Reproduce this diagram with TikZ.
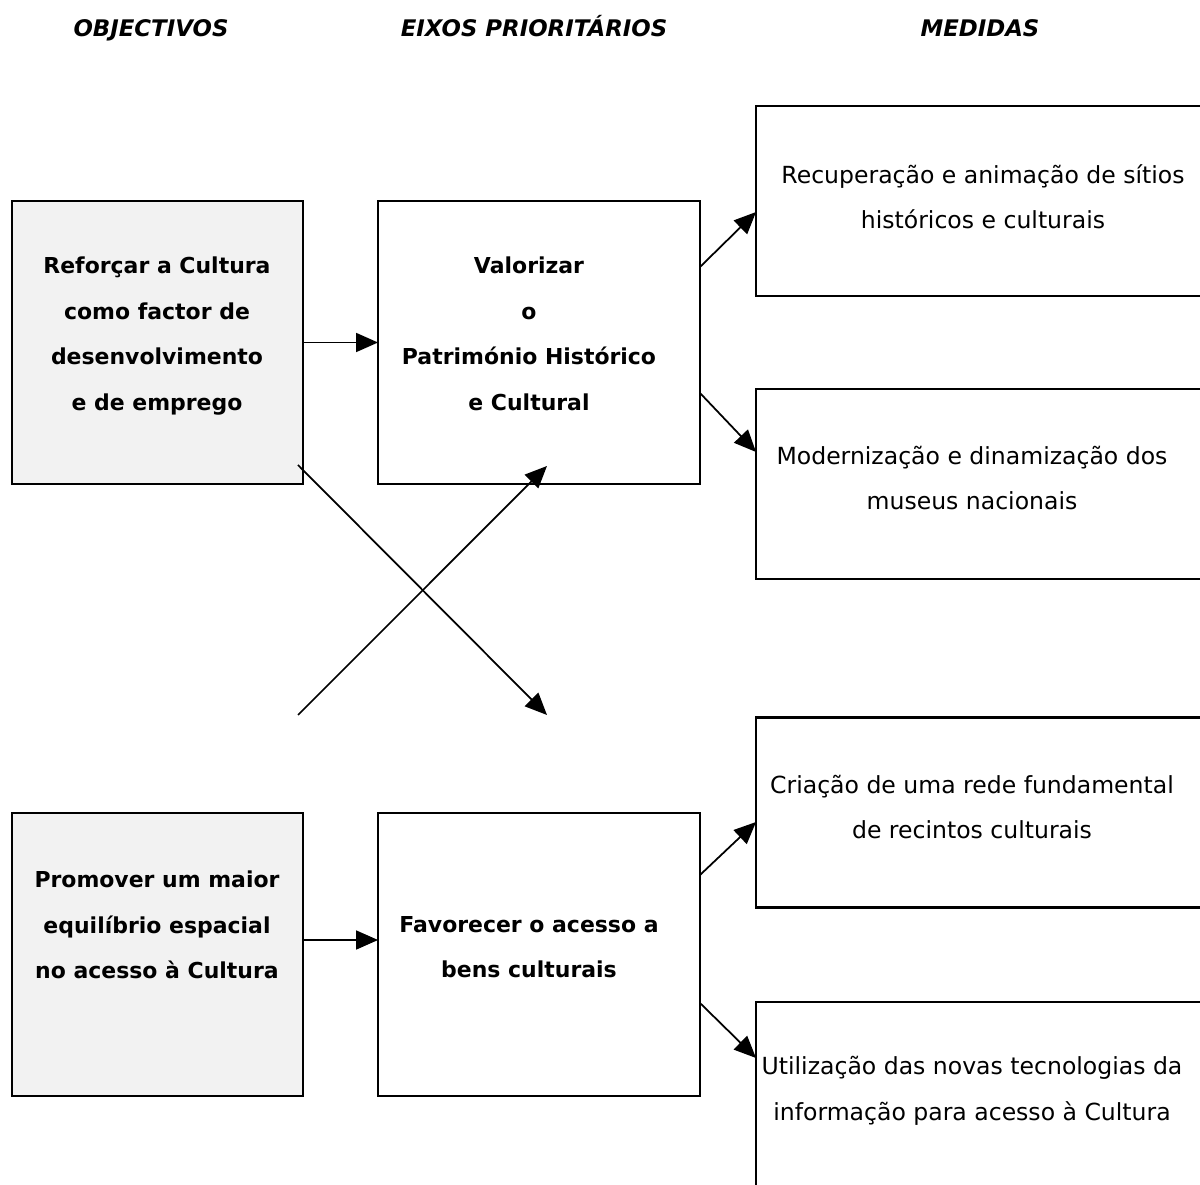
\documentclass[tikz,border=0pt]{standalone}
\usepackage{fontspec}
\setmainfont{DejaVu Sans}
\usepackage{tikz}
\usetikzlibrary{arrows.meta,positioning}
\definecolor{objgray}{RGB}{242,242,242}
\tikzset{
  objbox/.style={draw=black, line width=1.3pt, fill=objgray, outer sep=0pt, minimum width=5.82cm, minimum height=5.66cm},
  eixobox/.style={draw=black, line width=1.3pt, fill=white, outer sep=0pt, minimum width=6.44cm, minimum height=5.66cm},
  medbox/.style={draw=black, line width=1.3pt, fill=white, outer sep=0pt, minimum width=9.12cm, minimum height=3.8cm},
  boldtxt/.style={align=center, inner sep=0pt, font=\bfseries\fontsize{12.5}{25.9}\selectfont},
  medtxt/.style={align=center, inner sep=0pt, font=\fontsize{13.4}{25.9}\selectfont},
  head/.style={inner sep=0pt, anchor=base, font=\bfseries\itshape\fontsize{13}{16}\selectfont},
  arr/.style={line width=1pt, -{Triangle[length=0.44cm,width=0.38cm]}}
}

\begin{document}
\begin{tikzpicture}[x=0.02cm,y=-0.02cm]
\useasboundingbox[fill=white] (0,0) rectangle (1200,1185);

\node[head] (hobj) at (151,37) {OBJECTIVOS};
\node[head] (heixo) at (534,37) {EIXOS PRIORITÁRIOS};
\node[head] (hmed) at (980,37) {MEDIDAS};

% boxes
\node[objbox] (obj1) at (157.5,342.5) {};
\node[eixobox] (eixo1) at (539,342.5) {};
\node[medbox] (med1) at (984,201) {};
\node[medbox] (med2) at (984,484) {};

\node[objbox] (obj2) at (157.5,954.5) {};
\node[eixobox] (eixo2) at (539,954.5) {};
\node[medbox] (med3) at (984,812.5) {};
\node[medbox] (med4) at (984,1097) {};

% texts
\node[boldtxt] (obj1t) at (157,336) {Reforçar a Cultura\\como factor de\\desenvolvimento\\e de emprego};
\node[boldtxt] (eixo1t) at (529,334) {Valorizar\\o\\Património Histórico\\e Cultural};
\node[medtxt] (med1t) at (983,197) {Recuperação e animação de sítios\\históricos e culturais};
\node[medtxt] (med2t) at (972,478) {Modernização e dinamização dos\\museus nacionais};

\node[boldtxt] (obj2t) at (157,925) {Promover um maior\\equilíbrio espacial\\no acesso à Cultura};
\node[boldtxt] (eixo2t) at (529,947) {Favorecer o acesso a\\bens culturais};
\node[medtxt] (med3t) at (972,807) {Criação de uma rede fundamental\\de recintos culturais};
\node[medtxt] (med4t) at (972,1091) {Utilização das novas tecnologias da\\informação para acesso à Cultura};

% arrows
\draw[arr] (obj1.east) -- (eixo1.west);
\draw[arr] ([yshift=0.29cm]obj2.east) -- ([yshift=0.29cm]eixo2.west);

\draw[arr] ([yshift=1.51cm]eixo1.east) -- ([yshift=-0.22cm]med1.west);
\draw[arr] ([yshift=-1.01cm]eixo1.east) -- ([yshift=0.64cm]med2.west);
\draw[arr] ([yshift=1.59cm]eixo2.east) -- ([yshift=-0.19cm]med3.west);
\draw[arr] ([yshift=-0.97cm]eixo2.east) -- ([yshift=0.78cm]med4.west);

\coordinate (xa) at (298,715);
\coordinate (xb) at (547,715);
\draw[arr] ([xshift=-0.1cm,yshift=0.38cm]obj1.south east) -- (xb);
\draw[arr] (xa) -- ([xshift=3.38cm,yshift=0.36cm]eixo1.south west);
\end{tikzpicture}
\end{document}
